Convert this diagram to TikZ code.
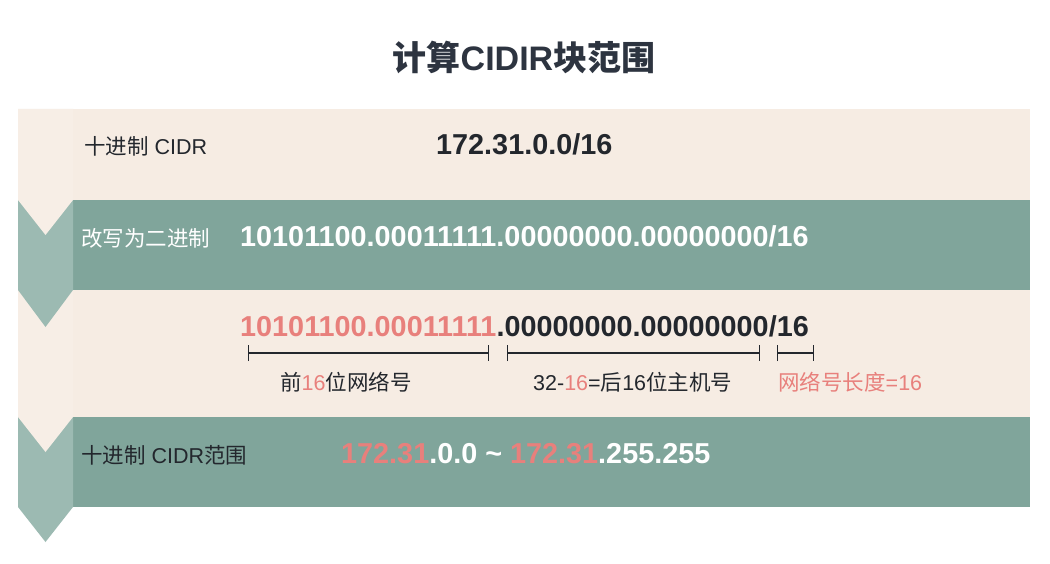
\documentclass[tikz,border=0pt]{standalone}
\usepackage{fontspec}
\setmainfont{Liberation Sans}
\newfontfamily\cjk{Noto Sans CJK SC}
\usetikzlibrary{arrows.meta}
\definecolor{beige}{HTML}{F6ECE3}
\definecolor{beigestrip}{HTML}{F7EEE6}
\definecolor{sage}{HTML}{80A59B}
\definecolor{sagestrip}{HTML}{9CBAB2}
\definecolor{ink}{HTML}{23272D}
\definecolor{titleink}{HTML}{2D3440}
\definecolor{pinkred}{HTML}{E8807C}
\newcommand\zhtxt[1]{{\cjk #1}}
\tikzset{
  txt/.style={inner sep=0pt, anchor=base west},
  lab/.style={txt, font=\fontsize{21.5}{24}\selectfont},
  num/.style={txt, font=\fontsize{28.8}{32}\selectfont\bfseries},
  bracket/.style={draw=ink, line width=1.4pt, {Bar[width=16pt]}-{Bar[width=16pt]}},
}
\begin{document}
\begin{tikzpicture}[x=1pt,y=-1pt]
\fill[white] (0,0) rectangle (1050,564);
\useasboundingbox (0,0) rectangle (1050,564);
% row 4 (green)
\fill[sage] (73,417) rectangle (1030,507);
\fill[sagestrip] (18,417) -- (73,417) -- (73,507) -- (45.5,542) -- (18,507) -- cycle;
% row 3 (beige)
\fill[beige] (73,290) rectangle (1030,417);
\fill[beigestrip] (18,290) -- (73,290) -- (73,417) -- (45.5,452) -- (18,417) -- cycle;
% row 2 (green)
\fill[sage] (73,200) rectangle (1030,290);
\fill[sagestrip] (18,200) -- (73,200) -- (73,290) -- (45.5,327) -- (18,290) -- cycle;
% row 1 (beige)
\fill[beige] (73,109) rectangle (1030,200);
\fill[beigestrip] (18,109) -- (73,109) -- (73,200) -- (45.5,235) -- (18,200) -- cycle;

% title
\node[txt, anchor=base, text=titleink, font=\fontsize{34}{38}\selectfont\bfseries] (title) at (524,71)
  {\zhtxt{\bfseries 计算}CIDIR\zhtxt{\bfseries 块范围}};

% row 1
\node[lab, text=ink] (l1) at (84,155) {\zhtxt{十进制} CIDR};
\node[num, text=ink] (n1) at (436,155) {172.31.0.0/16};

% row 2
\node[lab, text=white] (l2) at (81,247) {\zhtxt{改写为二进制}};
\node[num, text=white] (n2) at (240,247) {10101100.00011111.00000000.00000000/16};

% row 3
\node[num, text=ink] (n3) at (240,336) {\textcolor{pinkred}{10101100.00011111}.00000000.00000000/16};
\coordinate (b1a) at (248,353);
\coordinate (b1b) at (489,353);
\coordinate (b2a) at (507,353);
\coordinate (b2b) at (760,353);
\coordinate (b3a) at (777,353);
\coordinate (b3b) at (814,353);
\draw[bracket] (b1a) -- (b1b);
\draw[bracket] (b2a) -- (b2b);
\draw[bracket] (b3a) -- (b3b);
\node[lab, text=ink] (t1) at (280,390) {\zhtxt{前}\textcolor{pinkred}{16}\zhtxt{位网络号}};
\node[lab, text=ink] (t2) at (533,390) {32-\textcolor{pinkred}{16}=\zhtxt{后}16\zhtxt{位主机号}};
\node[lab, text=pinkred] (t3) at (778,390) {\zhtxt{网络号长度}=16};

% row 4
\node[lab, text=ink] (l4) at (81,463) {\zhtxt{十进制} CIDR\zhtxt{范围}};
\node[num, text=white] (n4) at (341,463) {\textcolor{pinkred}{172.31}.0.0 \char`\~{} \textcolor{pinkred}{172.31}.255.255};
\end{tikzpicture}
\end{document}
